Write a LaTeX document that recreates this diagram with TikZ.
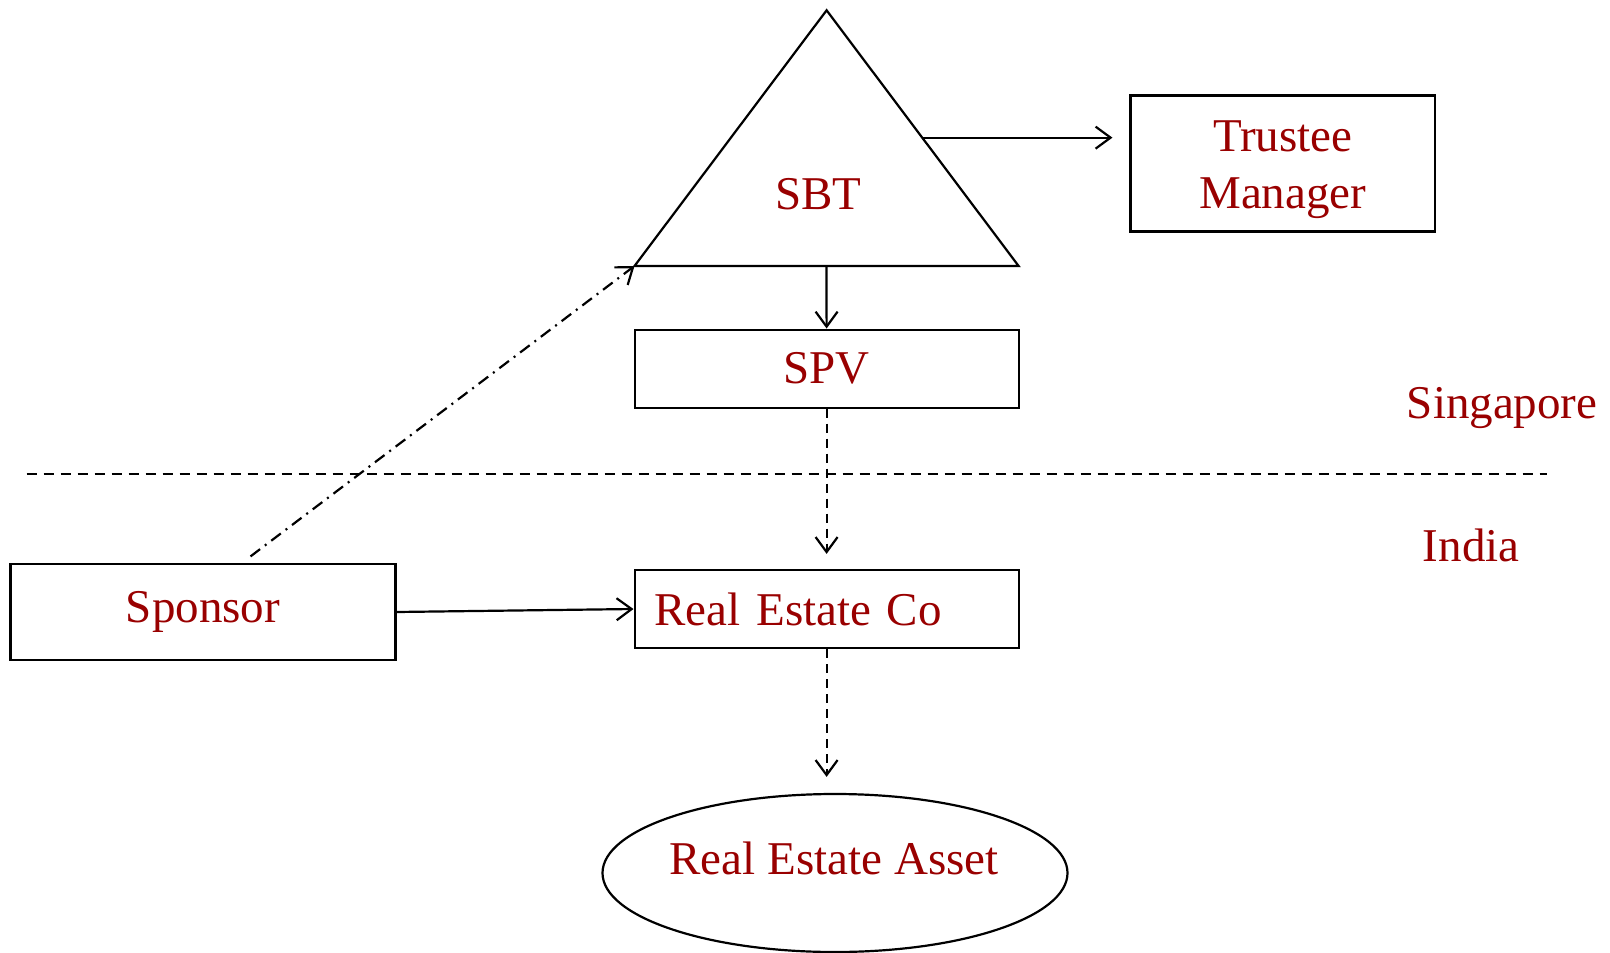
\documentclass[tikz,border=0pt]{standalone}
\usepackage{fontspec}
\setmainfont{Liberation Serif}
\usetikzlibrary{arrows.meta,calc,shapes.geometric}
\definecolor{labelred}{RGB}{153,0,0}
\begin{document}
\begin{tikzpicture}[x=1pt,y=-1pt,
  every node/.style={font=\fontsize{47}{57}\selectfont, text=labelred},
  box/.style={draw=black, line width=2.2pt, rectangle, inner sep=0pt},
  tag/.style={inner sep=0pt},
  link/.style={draw=black, line width=2.2pt, -{Straight Barb[length=15pt,width=22pt]}},
  dashlink/.style={link, dash pattern=on 9pt off 6pt},
  dotdashlink/.style={link, dash pattern=on 12pt off 6pt on 2pt off 6pt},
  border/.style={draw=black, line width=2.2pt, dash pattern=on 10pt off 7pt}
]
\useasboundingbox (0,0) rectangle (1610,953);

% SBT triangle
\coordinate (sbtA) at (826.6,10.3);
\coordinate (sbtL) at (634.5,266);
\coordinate (sbtR) at (1018.6,266);
\draw[line width=2.2pt, line join=miter] (sbtA) -- (sbtR) -- (sbtL) -- cycle;
\node[tag, anchor=base] (sbt) at (818.5,209.5) {SBT};

% boxes
\node[box, minimum width=304.5pt, minimum height=136pt] (tm) at (1282.8,163.5) {};
\node[tag, align=center] (tmtext) at (1282.8,169.7) {Trustee\\Manager};
\node[box, minimum width=384pt, minimum height=78pt] (spv) at (826.6,368.6) {SPV};
\node[box, minimum width=384pt, minimum height=78pt, text width=344pt,
  inner xsep=20pt, align=left] (reco) at (826.6,609) {Real Estate Co};
\node[box, minimum width=385pt, minimum height=96pt] (sponsor) at (203,612) {Sponsor};
\node[draw=black, line width=2.2pt, ellipse, minimum width=465pt, minimum height=158pt,
  inner sep=0pt] (asset) at (835,873) {};
\node[tag, anchor=base] (assettext) at (834,874) {Real Estate Asset};

% jurisdiction border and labels
\coordinate (bordL) at (26.7,474);
\coordinate (bordR) at (1547,474);
\draw[border] (bordL) -- (bordR);
\node[tag, anchor=base west] (sg) at (1406.7,418.3) {Singapore};
\node[tag, anchor=base west] (in) at (1422.7,561.7) {India};

% connectors
\coordinate (sbtE) at ($(sbtA)!0.498!(sbtR)$);
\draw[link, shorten >=17pt] (sbtE) -- (sbtE -| tm.west);
\draw[link] ($(sbtL)!0.5!(sbtR)$) -- (spv.north);
\draw[dashlink, shorten >=15pt] (spv.south) -- (reco.north);
\draw[dashlink, shorten >=16pt] (reco.south) -- (reco.south |- asset.north);
\draw[link] (sponsor.east) -- (reco.west);
\coordinate (spStart) at ([xshift=47.5pt,yshift=6.5pt]sponsor.north);
\draw[dotdashlink] (spStart) -- (sbtL);
\end{tikzpicture}
\end{document}
